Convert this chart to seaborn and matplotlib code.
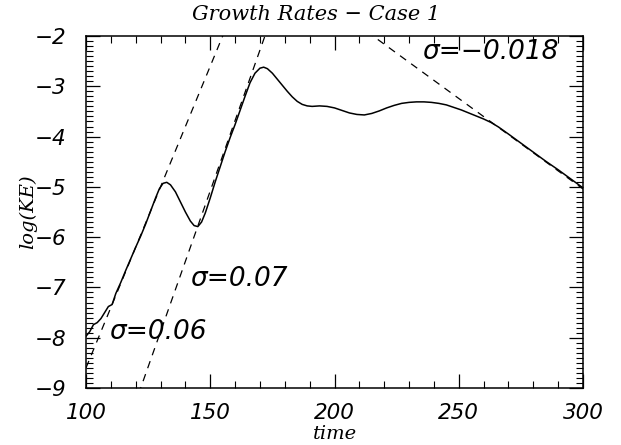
import matplotlib
matplotlib.use("Agg")
import matplotlib.pyplot as plt
import matplotlib.ticker as ticker
import seaborn as sns
import numpy as np
import pandas as pd

sns.set_theme(style="ticks")
plt.rcParams["font.family"] = ["DejaVu Sans"]
plt.rcParams["text.color"] = "black"

# kinetic energy history
time = [100, 101.5, 103, 104.5, 106, 107.5, 109, 110.5, 112, 114, 116, 118, 120,
        122, 124, 126, 128, 129.5, 131, 132.5, 134, 136, 138, 140, 142, 143.5,
        145, 146.5, 148, 150, 152, 154, 156, 158, 160, 162, 164, 166, 168, 170,
        171.5, 173, 175, 177, 179, 181, 183, 185, 187, 189, 191, 194, 197, 200,
        203, 206, 209, 212, 215, 218, 221, 224, 227, 230, 233, 236, 239, 242,
        245, 248, 251, 254, 257, 260, 263, 266, 270, 275, 280, 285, 290, 295, 300]
log_ke = [-7.97, -7.88, -7.74, -7.70, -7.62, -7.50, -7.38, -7.34, -7.12, -6.90,
          -6.66, -6.43, -6.20, -5.98, -5.74, -5.48, -5.22, -5.04, -4.93, -4.91,
          -4.96, -5.10, -5.30, -5.50, -5.68, -5.77, -5.79, -5.70, -5.52, -5.22,
          -4.90, -4.60, -4.30, -4.02, -3.76, -3.48, -3.20, -2.93, -2.74, -2.64,
          -2.62, -2.65, -2.74, -2.86, -2.98, -3.10, -3.21, -3.30, -3.36, -3.39,
          -3.40, -3.39, -3.40, -3.43, -3.48, -3.53, -3.56, -3.57, -3.54, -3.49,
          -3.43, -3.38, -3.34, -3.32, -3.31, -3.31, -3.32, -3.34, -3.37, -3.42,
          -3.47, -3.53, -3.59, -3.65, -3.72, -3.81, -3.95, -4.13, -4.31, -4.49,
          -4.66, -4.84, -5.02]

# fitted growth rates: KE ~ exp(2*sigma*t), anchored where each fit crosses log(KE)=-2
sigmas = [0.06, 0.07, -0.018]
anchor_t = [155.0, 172.0, 215.5]
sigma_labels = ["σ=0.06", "σ=0.07", "σ=−0.018"]
label_xy = [(109.5, -7.88), (141.8, -6.83), (235.2, -2.32)]

df = pd.DataFrame({"time": time, "logKE": log_ke})

fig = plt.figure(figsize=(6.21, 4.45), dpi=100)
ax = fig.add_axes([86 / 621, 57 / 445, 497 / 621, 352 / 445])

sns.lineplot(data=df, x="time", y="logKE", ax=ax, color="black", lw=1.1)

t_fit = np.linspace(100, 300, 401)
for s, t0 in zip(sigmas, anchor_t):
    ax.plot(t_fit, -2 + 2 * s * (t_fit - t0), color="black", lw=0.9,
            linestyle=(0, (6, 5)))

for lab, (x, y) in zip(sigma_labels, label_xy):
    ax.text(x, y, lab, fontsize=19, style="italic", ha="left", va="center",
            color="black")

ax.set_xlim(100, 300)
ax.set_ylim(-9, -2)
ax.xaxis.set_major_locator(ticker.MultipleLocator(50))
ax.xaxis.set_minor_locator(ticker.MultipleLocator(10))
ax.yaxis.set_major_locator(ticker.MultipleLocator(1))
ax.yaxis.set_minor_locator(ticker.MultipleLocator(0.1))
ax.yaxis.set_major_formatter(ticker.FuncFormatter(lambda v, p: f"{v:.0f}".replace("-", "−")))

ax.tick_params(which="both", direction="in", top=True, right=True, colors="black")
ax.tick_params(which="major", length=10, width=0.9, labelsize=15.5)
ax.tick_params(axis="x", which="major", pad=11)
ax.tick_params(axis="y", which="major", pad=14)
ax.tick_params(which="minor", length=5, width=0.8)
for lbl in ax.get_xticklabels() + ax.get_yticklabels():
    lbl.set_style("italic")
for sp in ax.spines.values():
    sp.set_color("black")
    sp.set_linewidth(1.1)

fig.text(316 / 621, 1 - 14 / 445, "Growth Rates − Case 1", fontsize=15,
         style="italic", family="DejaVu Serif", ha="center", va="center",
         color="black")
ax.set_xlabel("time", fontsize=14, style="italic", family="DejaVu Serif",
              color="black")
ax.set_ylabel("log(KE)", fontsize=14, style="italic", family="DejaVu Serif",
              color="black")
ax.xaxis.set_label_coords(0.5, -(434 - 388) / 352)
ax.yaxis.set_label_coords(-(86 - 28) / 497, 0.5)
ax.xaxis.label.set_va("center")
ax.yaxis.label.set_va("center")

fig.savefig("out.png", dpi=100)
